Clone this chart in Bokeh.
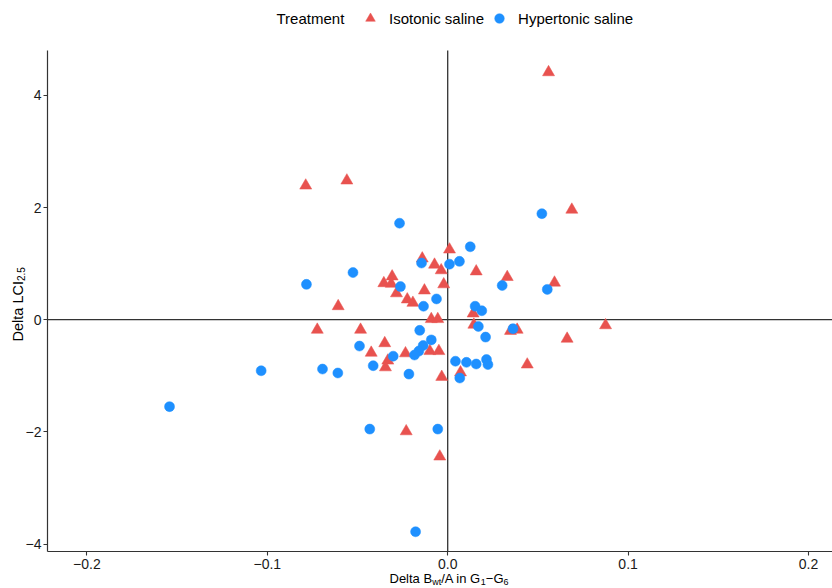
import math
from bokeh.plotting import figure
from bokeh.models import Range1d, Label, Legend, LegendItem, FixedTicker, LinearAxis
from bokeh.embed import file_html
from bokeh.resources import INLINE

# ---------------- data ----------------
iso_x = [0.0559, -0.0787, -0.0559, 0.0688, 0.0010, -0.0141, -0.0073, -0.0036, 0.0158, 0.0330,
         0.0592, -0.0022, -0.0354, -0.0308, -0.0313, -0.0284, -0.0129, -0.0224, -0.0193, -0.0607,
         -0.0091, -0.0055, 0.0141, 0.0145, 0.0348, 0.0385, 0.0662, 0.0875, -0.0723, -0.0483,
         -0.0349, -0.0424, -0.0234, -0.0099, -0.0049, -0.0332, -0.0345, -0.0033, 0.0071, 0.0441,
         -0.0230, -0.0044]
iso_y = [4.41, 2.39, 2.48, 1.96, 1.25, 1.09, 0.98, 0.88, 0.86, 0.76,
         0.66, 0.63, 0.65, 0.77, 0.64, 0.47, 0.52, 0.36, 0.30, 0.24,
         0.01, 0.01, 0.11, -0.09, -0.20, -0.18, -0.34, -0.10, -0.18, -0.18,
         -0.42, -0.59, -0.60, -0.56, -0.56, -0.73, -0.85, -1.02, -0.94, -0.80,
         -1.99, -2.44]
hyp_x = [0.0522, -0.0267, 0.0125, 0.0010, 0.0065, -0.0145, -0.0525, -0.0783, -0.0262, 0.0302,
         0.0552, -0.0062, -0.0134, 0.0152, 0.0189, 0.0170, 0.0362, -0.0155, -0.0091, 0.0210,
         -0.0136, -0.0160, -0.0184, -0.0489, -0.0302, -0.0413, -0.0215, 0.0043, 0.0104, 0.0158,
         0.0215, 0.0223, 0.0067, -0.1034, -0.0694, -0.0609, -0.1542, -0.0432, -0.0055, -0.0178]
hyp_y = [1.89, 1.72, 1.30, 0.99, 1.04, 1.01, 0.84, 0.63, 0.59, 0.61,
         0.54, 0.37, 0.24, 0.24, 0.16, -0.12, -0.16, -0.19, -0.36, -0.31,
         -0.46, -0.56, -0.63, -0.47, -0.65, -0.82, -0.97, -0.74, -0.76, -0.79,
         -0.71, -0.80, -1.04, -0.91, -0.88, -0.95, -1.55, -1.95, -1.95, -3.78]

series_labels = ["Isotonic saline", "Hypertonic saline"]
legend_title = "Treatment"
x_ticks = [-0.2, -0.1, 0.0, 0.1, 0.2]
x_tick_labels = ["\u22120.2", "\u22120.1", "0.0", "0.1", "0.2"]
y_ticks = [-4, -2, 0, 2, 4]
y_tick_labels = ["\u22124", "\u22122", "0", "2", "4"]

# ---------------- layout ----------------
RED = "#E8524F"
BLUE = "#1E90FF"
FONT = "Liberation Sans"
W, H = 832, 588
# pixel calibration: x = 0 at px 447.2, 180.4 px per 0.1 ; y = 0 at px 319.2, 56.1 px per unit
PX0, PXU = 447.2, 1804.0
PY0, PYU = 319.2, 56.1


def dx(px):
    return (px - PX0) / PXU


def dy(py):
    return (PY0 - py) / PYU


# panel (axis) extents
AX_L, AX_T, AX_B = 47, 50, 551
X0, X1 = dx(AX_L), dx(W)
Y0, Y1 = dy(AX_B), dy(AX_T)

ADV = {" ": 278, "D": 722, "e": 556, "l": 222, "t": 278, "a": 556, "B": 667, "w": 722,
       "/": 278, "A": 667, "i": 222, "n": 556, "G": 778, "1": 556, "6": 556, "\u2212": 584,
       "L": 556, "C": 722, "I": 278, "2": 556, ".": 278, "5": 556}


def tw(s, size):
    return sum(ADV.get(c, 556) for c in s) / 1000.0 * size


p = figure(width=W, height=H, x_range=Range1d(dx(0), dx(W)), y_range=Range1d(dy(H), dy(0)),
           output_backend="svg", toolbar_location=None,
           x_axis_location=None, y_axis_location=None,
           min_border_left=0, min_border_right=0, min_border_top=0, min_border_bottom=0)
p.grid.visible = False
p.outline_line_color = None
p.background_fill_color = "white"
p.border_fill_color = "white"

# reference lines at zero (under the points)
p.line([X0, X1], [0, 0], line_color="#333333", line_width=1.3)
p.line([0, 0], [Y0, Y1], line_color="#333333", line_width=1.3)

r_iso = p.scatter(iso_x, iso_y, marker="triangle", size=12, fill_color=RED, line_color=RED,
                  line_width=0.5)
r_hyp = p.scatter(hyp_x, hyp_y, marker="circle", size=10, fill_color=BLUE, line_color=BLUE,
                  line_width=0.5)

# axes at fixed locations so that the frame covers the whole canvas
xaxis = LinearAxis(fixed_location=Y0, bounds=(X0, X1), ticker=FixedTicker(ticks=x_ticks))
yaxis = LinearAxis(fixed_location=X0, bounds=(Y0, Y1), ticker=FixedTicker(ticks=y_ticks))
xaxis.major_label_overrides = {t: l for t, l in zip(x_ticks, x_tick_labels)}
yaxis.major_label_overrides = {t: l for t, l in zip(y_ticks, y_tick_labels)}
for ax in (xaxis, yaxis):
    ax.axis_line_color = "#333333"
    ax.axis_line_width = 1.2
    ax.major_tick_line_color = "#333333"
    ax.major_tick_line_width = 1.1
    ax.major_tick_out = 4
    ax.major_tick_in = 0
    ax.minor_tick_line_color = None
    ax.major_label_text_font = FONT
    ax.major_label_text_font_size = "14px"
    ax.major_label_text_color = "#1a1a1a"
    ax.major_label_standoff = 2
xaxis.major_label_standoff = 3
p.add_layout(xaxis, "below")
p.add_layout(yaxis, "left")

# x axis title with subscripts: Delta B_wt/A in G_1−G_6
XS, XSUB = 13, 9
pieces = [("Delta B", False), ("wt", True), ("/A in G", False), ("1", True),
          ("\u2212G", False), ("6", True)]
sx = 389.0
cy = 578.0
for txt, sub in pieces:
    size = XSUB if sub else XS
    p.add_layout(Label(x=dx(sx), y=dy(cy + (3.0 if sub else 0)), text=txt,
                       text_font=FONT, text_font_size=f"{size}px", text_color="black",
                       text_align="left", text_baseline="middle"))
    sx += tw(txt, size)

# y axis title: Delta LCI_2.5 (rotated)
YS, YSUB = 14.5, 10
sy = 341.0
cx = 17.5
for txt, sub in [("Delta LCI", False), ("2.5", True)]:
    size = YSUB if sub else YS
    p.add_layout(Label(x=dx(cx + (3.4 if sub else 0)), y=dy(sy), text=txt, angle=math.pi / 2,
                       text_font=FONT, text_font_size=f"{size}px", text_color="black",
                       text_align="left", text_baseline="middle"))
    sy -= tw(txt, size)

# legend
p.add_layout(Label(x=dx(276), y=dy(18), text=legend_title, text_font=FONT,
                   text_font_size="15px", text_color="black", text_align="left",
                   text_baseline="middle"))
LEG_H = 24
legend = Legend(items=[LegendItem(label=series_labels[0], renderers=[r_iso]),
                       LegendItem(label=series_labels[1], renderers=[r_hyp])],
                orientation="horizontal", location=(358, H - (18 + LEG_H / 2)),
                padding=0, spacing=3, label_standoff=7, glyph_width=24, glyph_height=LEG_H,
                label_height=LEG_H, label_text_font=FONT, label_text_font_size="15px",
                label_text_color="black", background_fill_alpha=0, border_line_color=None,
                margin=0)
p.add_layout(legend)

open("out.html", "w").write(file_html(p, INLINE))
